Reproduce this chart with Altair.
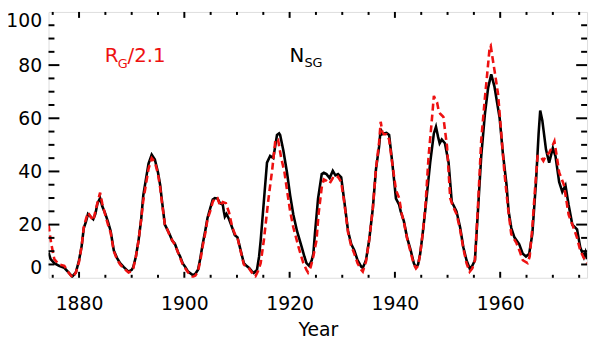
import altair as alt
import pandas as pd

# N_SG (black, solid)
ns_year = [1874.2, 1874.6, 1875.3, 1876.2, 1877.2, 1878.0, 1878.7, 1879.4, 1880.0, 1880.5,
           1880.9, 1881.3, 1881.7, 1882.2, 1882.7, 1883.1, 1883.5, 1884.0, 1884.4, 1885.0,
           1885.5, 1886.0, 1886.6, 1887.2, 1887.8, 1888.5, 1889.4, 1890.0, 1890.3, 1890.8,
           1891.3, 1891.8, 1892.2, 1892.7, 1893.2, 1893.8, 1894.4, 1895.0, 1895.4, 1895.7,
           1896.3, 1896.8, 1897.2, 1897.7, 1898.2, 1898.8, 1899.2, 1899.7, 1900.2, 1900.7,
           1901.6, 1902.1, 1902.6, 1903.0, 1903.5, 1904.0, 1904.4, 1904.9, 1905.4, 1905.8,
           1906.3, 1906.8, 1907.3, 1907.5, 1907.7, 1908.0, 1908.5, 1909.1, 1909.6, 1910.1,
           1910.7, 1911.3, 1911.8, 1912.3, 1912.8, 1913.2, 1913.8, 1914.2, 1914.5, 1915.1,
           1915.7, 1916.3, 1916.9, 1917.3, 1917.6, 1918.0, 1918.2, 1918.8, 1919.5, 1920.1,
           1920.7, 1921.4, 1922.3, 1922.8, 1923.2, 1923.7, 1924.2, 1924.5, 1924.8, 1925.4,
           1926.1, 1926.5, 1927.0, 1927.6, 1928.2, 1928.7, 1929.2, 1929.8, 1930.4, 1931.1,
           1931.7, 1932.3, 1932.9, 1933.6, 1933.9, 1934.5, 1935.1, 1935.8, 1936.4, 1937.0,
           1937.3, 1937.6, 1937.9, 1938.4, 1938.9, 1939.5, 1940.2, 1940.8, 1941.1, 1941.7,
           1942.3, 1943.0, 1943.6, 1944.0, 1944.4, 1944.8, 1945.3, 1945.8, 1946.7, 1947.4,
           1947.8, 1948.2, 1948.5, 1948.9, 1949.5, 1950.2, 1950.8, 1951.2, 1951.7, 1952.4,
           1953.0, 1953.6, 1954.2, 1954.7, 1955.2, 1955.8, 1956.4, 1957.1, 1957.7, 1958.3,
           1958.9, 1959.9, 1960.5, 1961.2, 1961.6, 1962.1, 1962.7, 1963.6, 1964.3, 1964.9,
           1965.5, 1966.1, 1966.8, 1967.3, 1967.6, 1968.0, 1968.7, 1969.3, 1970.0, 1970.5,
           1971.2, 1971.8, 1972.4, 1973.0, 1973.7, 1974.6, 1975.2, 1975.9, 1976.2, 1976.5]
ns_val = [9.5, 7, 5.5, 4.5, 3.7, 2, 0.4, 2, 6.6, 12,
          18.7, 21, 24, 23, 22, 24, 28, 30, 27, 24,
          21, 17.6, 10.3, 7.5, 5.5, 4, 2.3, 3, 4, 8,
          14, 22, 31, 37, 43, 46.3, 44.5, 39.6, 35, 29.8,
          20, 18, 16.4, 14, 12.8, 9.6, 8, 5.4, 4, 2.3,
          1, 1.5, 3, 7, 12.8, 18, 22.5, 26, 29.4, 30,
          29.8, 28, 27.5, 25, 23, 24, 22, 18.8, 16, 15.2,
          10.3, 5.5, 4.5, 3.7, 2.5, 1.8, 3, 8, 14, 28.6,
          43.3, 45.8, 45, 50, 53.7, 54.3, 53.7, 48, 39.6, 31,
          23.8, 17.6, 11.5, 8, 5.5, 4.5, 6.6, 9, 16.4, 29.8,
          39, 39.5, 39, 37.5, 40.2, 38.5, 39, 37.8, 28.6, 17.6,
          12.7, 10.3, 6.6, 4.2, 3.7, 6.6, 14, 26, 40.8, 49.4,
          56, 54, 54.3, 54.5, 53.7, 43.3, 29.8, 27.5, 25, 21.3,
          15.2, 10.3, 5.4, 3.9, 5, 9, 17, 26, 43.3, 54.3,
          56.8, 53, 50.6, 52, 50.6, 43.3, 28.6, 27, 25, 18.8,
          11.5, 6.6, 3.5, 4.5, 6.6, 26, 45.8, 61.7, 71.4, 76.5,
          72, 60, 47, 35, 25, 18.8, 15.2, 12.7, 9, 8,
          9, 16.4, 36, 54.3, 62.9, 59.2, 48.2, 43.3, 48.8, 45.8,
          36, 32.3, 34.7, 27.4, 20, 18.2, 11.5, 7.8, 9.6, 7]

# R_G / 2.1 (red, dashed)
rg_year = [1874.2, 1874.7, 1875.3, 1876.2, 1877.2, 1878.0, 1878.8, 1879.4, 1880.0, 1880.5,
           1880.9, 1881.3, 1881.7, 1882.2, 1882.7, 1883.1, 1883.6, 1884.0, 1884.4, 1885.0,
           1885.5, 1886.0, 1886.6, 1887.2, 1887.8, 1888.5, 1889.4, 1890.0, 1890.3, 1890.8,
           1891.3, 1891.8, 1892.2, 1892.7, 1893.2, 1893.8, 1894.4, 1895.0, 1895.4, 1895.7,
           1896.3, 1896.8, 1897.2, 1897.7, 1898.2, 1898.8, 1899.2, 1899.7, 1900.2, 1900.7,
           1901.6, 1902.1, 1902.6, 1903.0, 1903.5, 1904.0, 1904.4, 1904.9, 1905.4, 1905.8,
           1906.3, 1906.8, 1907.3, 1907.9, 1908.5, 1909.1, 1909.6, 1910.1, 1910.7, 1911.3,
           1911.8, 1912.3, 1912.8, 1913.5, 1914.0, 1914.5, 1915.1, 1916.0, 1916.7, 1917.3,
           1917.8, 1918.4, 1919.0, 1919.5, 1920.1, 1920.7, 1921.7, 1922.6, 1923.2, 1923.5,
           1924.0, 1924.5, 1925.1, 1925.5, 1926.1, 1926.5, 1927.0, 1927.6, 1928.2, 1928.7,
           1929.2, 1929.8, 1930.4, 1931.1, 1931.7, 1932.3, 1932.9, 1933.6, 1933.9, 1934.5,
           1935.1, 1935.8, 1936.4, 1937.0, 1937.3, 1937.6, 1937.9, 1938.4, 1938.9, 1939.5,
           1940.2, 1940.8, 1941.3, 1941.7, 1942.3, 1943.0, 1943.6, 1944.0, 1944.4, 1944.8,
           1945.3, 1945.8, 1946.4, 1947.0, 1947.4, 1947.7, 1948.0, 1948.3, 1948.6, 1949.2,
           1949.9, 1950.5, 1951.0, 1951.7, 1952.4, 1953.0, 1953.6, 1954.2, 1954.7, 1955.2,
           1955.8, 1956.4, 1957.1, 1957.5, 1958.0, 1958.2, 1958.6, 1959.0, 1959.6, 1960.2,
           1960.8, 1961.5, 1962.1, 1963.1, 1963.7, 1964.3, 1965.2, 1965.6, 1966.1, 1966.6,
           1967.1, 1967.6, 1968.2, 1968.7, 1969.3, 1969.8, 1970.3, 1970.8, 1971.2, 1972.1,
           1973.0, 1973.9, 1974.6, 1975.2, 1976.1, 1976.5]
rg_val = [20, 13, 7, 5, 4.5, 2, 0, 2, 6, 12,
          19, 22, 24.5, 23, 21.5, 25, 29, 32, 28, 23.5,
          20, 17, 10, 7, 5, 3.5, 2, 2.5, 3.5, 8,
          14, 22, 29, 35, 41, 45, 43.5, 39, 34, 29,
          20, 18, 16, 14, 12.5, 9.5, 7.5, 5, 3.5, 2,
          0.3, 0.8, 2.5, 6, 12, 17, 22, 25, 28.5, 30,
          30, 27, 28.5, 28, 24.5, 19, 16.5, 15, 10, 5,
          4, 3.5, 2, 0.5, 2.5, 5.5, 14, 30, 40.8, 51.9,
          52, 45, 40, 33, 25, 19, 11.5, 5.5, 3, 2,
          4, 8, 14, 24, 34, 37, 36.5, 35.5, 37.5, 37,
          38, 36, 28, 17, 12, 9, 5.5, 3, 2.3, 6,
          14, 26, 41, 51, 58.7, 55, 54, 54, 52, 43,
          33, 30, 24, 21, 15, 9.5, 5, 3.5, 4.5, 9,
          17, 27, 45.8, 59, 68.4, 67, 66, 63, 61.7, 60.5,
          49.4, 30, 27, 24, 18, 11, 5.5, 2.3, 3.5, 6.6,
          28, 51.9, 67.8, 76, 86.7, 87.3, 82, 77, 69, 54.3,
          39.6, 26, 16.4, 13, 10, 6.6, 5.5, 8, 18.8, 33,
          45.8, 45.8, 44, 46, 47, 49, 51.3, 45, 39.6, 35,
          23.7, 19, 15, 10.3, 6.6, 5.5]

x_major = [1880, 1900, 1920, 1940, 1960]
x_minor = [1875, 1885, 1890, 1895, 1905, 1910, 1915, 1925, 1930, 1935,
           1945, 1950, 1955, 1965, 1970, 1975]
y_major = [20, 40, 60, 80]
y_minor = [5, 10, 15, 25, 30, 35, 45, 50, 55, 65, 70, 75, 85, 90, 95]

W, H = 545, 269
RED = "#ee1111"
FONT = "DejaVu Sans"

xscale = alt.Scale(domain=[1874.2, 1976.5], nice=False, zero=False)
yscale = alt.Scale(domain=[0, 100], nice=False)
xaxis = alt.Axis(values=x_major, format="d", ticks=False, domain=False, grid=False,
                 labelPadding=17, labelFontSize=19, labelFont=FONT, labelColor="black",
                 title="Year", titleFontSize=19, titleFont=FONT, titleFontWeight="normal",
                 titleColor="black", titlePadding=7)
yaxis = alt.Axis(values=[0, 20, 40, 60, 80, 100], ticks=False, domain=False, grid=False,
                 labelPadding=7, labelFontSize=19, labelFont=FONT, labelColor="black",
                 labelFlush=True, title=None)

def X():
    return alt.X("year:Q", scale=xscale, axis=xaxis)

def Y():
    return alt.Y("value:Q", scale=yscale, axis=yaxis)

ns_df = pd.DataFrame({"year": ns_year, "value": ns_val})
rg_df = pd.DataFrame({"year": rg_year, "value": rg_val})

black = alt.Chart(ns_df).mark_line(color="black", strokeWidth=2.6, clip=True).encode(x=X(), y=Y())
red = alt.Chart(rg_df).mark_line(color=RED, strokeWidth=2.6, strokeDash=[7, 4], clip=True).encode(x=X(), y=Y())

def xticks(vals, length):
    d = pd.DataFrame({"year": vals})
    bottom = alt.Chart(d).mark_rule(color="black", strokeWidth=2).encode(
        x=X(), y=alt.value(H), y2=alt.value(H - length))
    top = alt.Chart(d).mark_rule(color="black", strokeWidth=2).encode(
        x=X(), y=alt.value(0), y2=alt.value(length))
    return [bottom, top]

def yticks(vals, length):
    d = pd.DataFrame({"value": vals})
    left = alt.Chart(d).mark_rule(color="black", strokeWidth=2).encode(
        y=Y(), x=alt.value(0), x2=alt.value(length))
    right = alt.Chart(d).mark_rule(color="black", strokeWidth=2).encode(
        y=Y(), x=alt.value(W), x2=alt.value(W - length))
    return [left, right]

one = alt.Data(values=[{}])

def label(text, x, y, size, color):
    return alt.Chart(one).mark_text(text=text, fontSize=size, font=FONT, color=color,
                                    align="left", baseline="alphabetic").encode(
        x=alt.value(x), y=alt.value(y))

texts = [
    label("R", 57, 51, 20, RED),
    label("G", 70, 57, 13, RED),
    label("/2.1", 80, 51, 20, RED),
    label("N", 244, 51, 20, "black"),
    label("SG", 259, 56, 13, "black"),
]

layers = ([black, red] + xticks(x_major, 6) + xticks(x_minor, 3)
          + yticks(y_major, 11) + yticks(y_minor, 6) + texts)

chart = alt.layer(*layers).properties(
    width=W, height=H,
    autosize=alt.AutoSizeParams(type="none"),
    padding={"left": 41, "top": 2, "right": 5, "bottom": 62},
).configure_view(stroke="black", strokeWidth=2.2).configure(background="white")

chart.save("out.html", embed_options={"renderer": "svg", "actions": False})
